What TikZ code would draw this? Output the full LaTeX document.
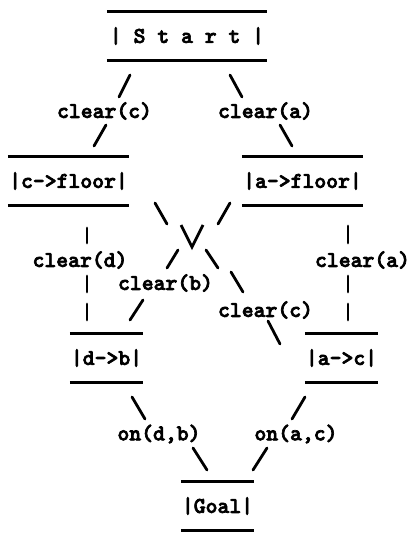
\documentclass[tikz,border=0pt]{standalone}
\usepackage{fontspec}
\setmonofont{lmmono10-regular.otf}[BoldFont=lmmonolt10-bold.otf, BoldFeatures={FakeBold=3}]
\begin{document}
\begin{tikzpicture}[x=1pt,y=-1pt,
  txt/.style={font=\ttfamily\bfseries\fontsize{22.6}{24}\selectfont, inner sep=0pt},
  box/.style={txt, minimum height=48pt},
  rule/.style={line width=2.8pt},
  conn/.style={line width=2.8pt, line cap=round}]
\useasboundingbox (0,0) rectangle (414,534);
% boxes
\node[box, minimum width=160pt] (start) at (187,36)  {| S t a r t |};
\node[box, minimum width=121pt] (cf)    at (68.5,181) {|c->floor|};
\node[box, minimum width=121pt] (af)    at (302.5,181) {|a->floor|};
\node[box, minimum width=73pt]  (db)    at (106.5,358) {|d->b|};
\node[box, minimum width=73pt]  (ac)    at (341.5,358) {|a->c|};
\node[box, minimum width=73pt]  (goal)  at (217.5,506) {|Goal|};
\foreach \n in {start,cf,af,db,ac,goal}{
  \draw[rule] (\n.north west) -- (\n.north east);
  \draw[rule] (\n.south west) -- (\n.south east);
}
% labels
\node[txt] (lc)  at (104.5,111) {clear(c)};
\node[txt] (la)  at (265.5,111) {clear(a)};
\node[txt] (ld)  at (80,260)    {clear(d)};
\node[txt] (lar) at (362.5,260) {clear(a)};
\node[txt] (lb)  at (165.5,283) {clear(b)};
\node[txt] (lc2) at (265.5,310) {clear(c)};
\node[txt] (odb) at (159,434)   {on(d,b)};
\node[txt] (oac) at (296,434)   {on(a,c)};
% connector pieces
\path (130,75) coordinate (s1a) (119,97) coordinate (s1b)
      (106,125) coordinate (s2a) (94,146) coordinate (s2b)
      (230,75) coordinate (s3a) (242,97) coordinate (s3b)
      (280,125) coordinate (s4a) (292,146) coordinate (s4b)
      (155,203) coordinate (x1a) (167,224) coordinate (x1b)
      (181,225) coordinate (vl) (192,247) coordinate (vb) (203,225) coordinate (vr)
      (206,250) coordinate (x2a) (218,268) coordinate (x2b)
      (231,272) coordinate (x3a) (243,292) coordinate (x3b)
      (230,203) coordinate (y1a) (218,224) coordinate (y1b)
      (178,250) coordinate (y2a) (167,268) coordinate (y2b)
      (143,300) coordinate (b1a) (130,320) coordinate (b1b)
      (268,321) coordinate (c1a) (280,344) coordinate (c1b)
      (87,228) coordinate (d1a) (87,243) coordinate (d1b)
      (87,276) coordinate (d2a) (87,292) coordinate (d2b)
      (87,304) coordinate (d3a) (87,320) coordinate (d3b)
      (348,226) coordinate (e1a) (348,243) coordinate (e1b)
      (348,276) coordinate (e2a) (348,292) coordinate (e2b)
      (348,304) coordinate (e3a) (348,320) coordinate (e3b)
      (132,397) coordinate (f1a) (145,419) coordinate (f1b)
      (305,397) coordinate (g1a) (292,419) coordinate (g1b)
      (193,448) coordinate (f2a) (207,470) coordinate (f2b)
      (267,448) coordinate (g2a) (253,470) coordinate (g2b);
\draw[conn] (s1a) -- (s1b);
\draw[conn] (s2a) -- (s2b);
\draw[conn] (s3a) -- (s3b);
\draw[conn] (s4a) -- (s4b);
\draw[conn] (x1a) -- (x1b);
\draw[conn, line cap=butt, line join=miter] (vl) -- (vb) -- (vr);
\draw[conn] (x2a) -- (x2b);
\draw[conn] (x3a) -- (x3b);
\draw[conn] (y1a) -- (y1b);
\draw[conn] (y2a) -- (y2b);
\draw[conn] (b1a) -- (b1b);
\draw[conn] (c1a) -- (c1b);
\draw[conn] (d1a) -- (d1b);
\draw[conn] (d2a) -- (d2b);
\draw[conn] (d3a) -- (d3b);
\draw[conn] (e1a) -- (e1b);
\draw[conn] (e2a) -- (e2b);
\draw[conn] (e3a) -- (e3b);
\draw[conn] (f1a) -- (f1b);
\draw[conn] (g1a) -- (g1b);
\draw[conn] (f2a) -- (f2b);
\draw[conn] (g2a) -- (g2b);
\end{tikzpicture}
\end{document}
